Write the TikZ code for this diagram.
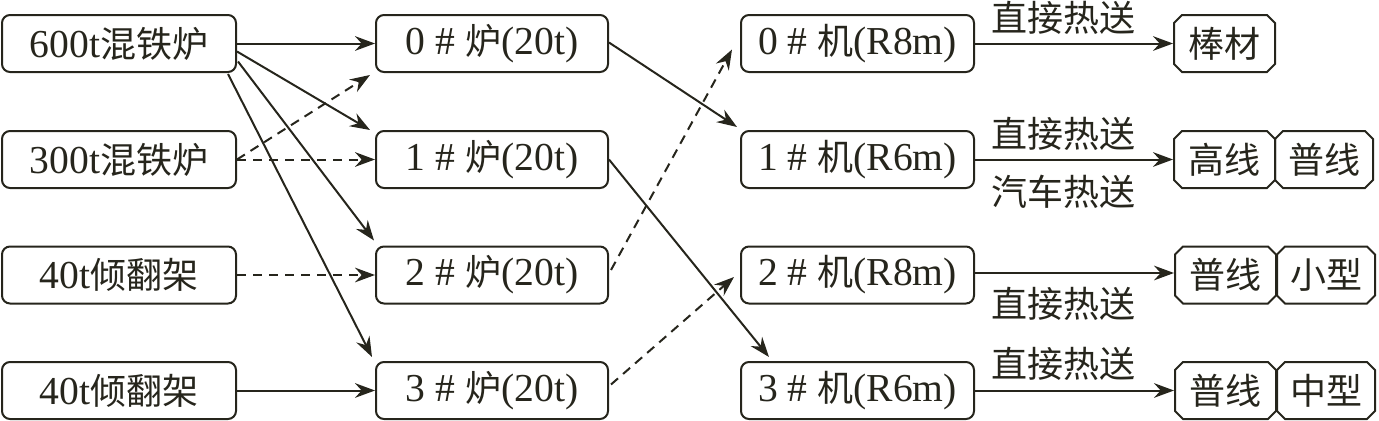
\documentclass[tikz,border=0pt]{standalone}
\usepackage{fontspec}
\setmainfont{Liberation Serif}[Scale=1.1]
\newfontfamily\cjk{Noto Sans CJK SC}
\usetikzlibrary{arrows.meta,calc,shapes.misc}
\definecolor{ink}{HTML}{26251C}
\begin{document}
\begin{tikzpicture}[x=0.75pt,y=-0.75pt,
  every node/.style={font=\fontsize{27pt}{30pt}\selectfont, text=ink},
  box/.style={draw=ink, line width=1.5pt, rounded corners=6pt, minimum height=42.75pt, inner sep=0pt},
  srcbox/.style={box, minimum width=175.5pt},
  furbox/.style={box, minimum width=174pt},
  machbox/.style={box, minimum width=174.75pt},
  prodbox/.style={draw=ink, line width=1.5pt, chamfered rectangle, chamfered rectangle xsep=3pt, chamfered rectangle ysep=3pt, minimum height=42.75pt, inner sep=0pt},
  prodA/.style={prodbox, minimum width=75.75pt},
  prodB/.style={prodbox, minimum width=73.5pt},
  arr/.style={draw=ink, line width=1.5pt, -{Stealth[length=15pt,width=11pt,inset=5pt]}},
  darr/.style={arr, dash pattern=on 7pt off 5pt},
  lbl/.style={inner sep=0pt}
]
\useasboundingbox (0,0) rectangle (1379,421);

% sources
\node[srcbox] (s0) at (119,43.5) {600t{\cjk 混铁炉}};
\node[srcbox] (s1) at (119,159.5) {300t{\cjk 混铁炉}};
\node[srcbox] (s2) at (119,275) {40t{\cjk 倾翻架}};
\node[srcbox] (s3) at (119,390.5) {40t{\cjk 倾翻架}};

% furnaces
\node[furbox] (f0) at (492,43.5) {0 \# {\cjk 炉}(20t)};
\node[furbox] (f1) at (492,159.5) {1 \# {\cjk 炉}(20t)};
\node[furbox] (f2) at (492,275) {2 \# {\cjk 炉}(20t)};
\node[furbox] (f3) at (492,390.5) {3 \# {\cjk 炉}(20t)};

% machines
\node[machbox] (m0) at (857.5,43.5) {0 \# {\cjk 机}(R8m)};
\node[machbox] (m1) at (857.5,159.5) {1 \# {\cjk 机}(R6m)};
\node[machbox] (m2) at (857.5,275) {2 \# {\cjk 机}(R8m)};
\node[machbox] (m3) at (857.5,390.5) {3 \# {\cjk 机}(R6m)};

% products
\node[prodA] (p0a) at (1224.5,43.5) {\cjk 棒材};
\node[prodA] (p1a) at (1224.5,159.5) {\cjk 高线};
\node[prodB] (p1b) at (1324,159.5) {\cjk 普线};
\node[prodA] (p2a) at (1225.5,275) {\cjk 普线};
\node[prodB] (p2b) at (1326,275) {\cjk 小型};
\node[prodA] (p3a) at (1225.5,390.5) {\cjk 普线};
\node[prodB] (p3b) at (1326,390.5) {\cjk 中型};

% sources -> furnaces
\draw[arr] (s0.east) -- (f0.west);
\draw[arr] ($(s0.east)+(0,8)$) -- ($(f1.north west)+(-5,0)$);
\draw[arr] ($(s0.east)+(1,18)$) -- ($(f2.north west)+(-1,-5)$);
\draw[arr] ($(s0.south east)+(-9,1)$) -- ($(f3.north west)+(-3,-4)$);
\draw[darr] (s1.east) -- (f1.west);
\draw[darr] (s1.east) -- ($(f0.south west)+(-5,2)$);
\draw[darr] (s2.east) -- (f2.west);
\draw[arr] (s3.east) -- (f3.west);

% furnaces -> machines
\draw[arr] ($(f0.east)+(0,-1)$) -- ($(m1.north west)+(-3,-3)$);
\draw[arr] (f1.east) -- ($(m3.north west)+(29,-4)$);
\draw[darr] ($(f2.east)+(2,-5)$) -- ($(m0.west)+(-8,6)$);
\draw[darr] ($(f3.east)+(2,-6)$) -- ($(m2.west)+(-6,2)$);

% machines -> products
\draw[arr] (m0.east) -- (p0a.west)
  node[lbl, pos=0.445, yshift=19pt] {\cjk 直接热送};
\draw[arr] (m1.east) -- (p1a.west)
  node[lbl, pos=0.445, yshift=19pt] {\cjk 直接热送}
  node[lbl, pos=0.445, yshift=-24pt] {\cjk 汽车热送};
\draw[arr] ($(m2.east)+(0,-2)$) -- ($(p2a.west)+(0,-2)$)
  node[lbl, pos=0.445, yshift=-23pt] {\cjk 直接热送};
\draw[arr] (m3.east) -- (p3a.west)
  node[lbl, pos=0.445, yshift=20pt] {\cjk 直接热送};
\end{tikzpicture}
\end{document}
